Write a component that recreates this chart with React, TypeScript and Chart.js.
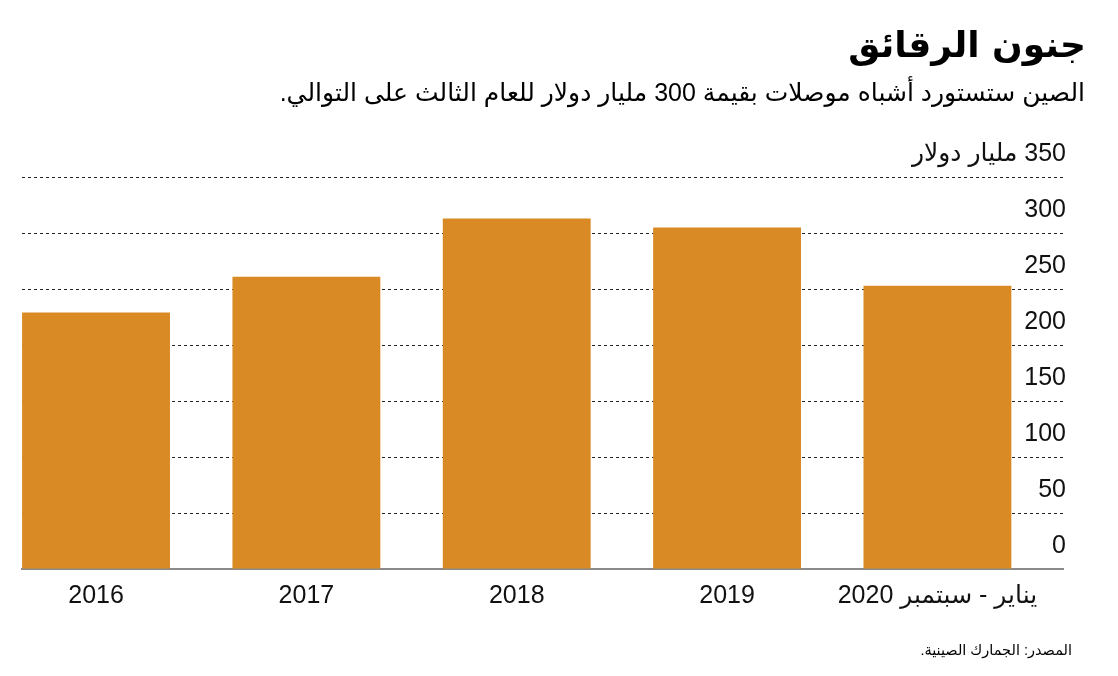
import React, { useEffect, useRef } from "react";
import { Chart, registerables } from "chart.js";

Chart.register(...registerables);

const titleText = "جنون الرقائق";
const subtitleText = "الصين ستستورد أشباه موصلات بقيمة 300 مليار دولار للعام الثالث على التوالي.";
const sourceText = "المصدر: الجمارك الصينية.";

const categories = ["2016", "2017", "2018", "2019", "يناير - سبتمبر 2020"];
const imports = [229, 261, 313, 305, 253];
const yTickValues = [0, 50, 100, 150, 200, 250, 300, 350];
const yTopLabelSuffix = " مليار دولار";

const BAR_COLOR = "#D98A24";
const FONT = "'Liberation Sans', 'DejaVu Sans', Arial, sans-serif";

export default function App() {
  const canvasRef = useRef<HTMLCanvasElement | null>(null);

  useEffect(() => {
    const canvas = canvasRef.current;
    if (!canvas) return;
    const chart = new Chart(canvas, {
      type: "bar",
      data: {
        datasets: [
          {
            data: imports.map((v, i) => ({ x: i, y: v })),
            backgroundColor: BAR_COLOR,
            borderWidth: 0,
            categoryPercentage: 1,
            barPercentage: 0.703,
          },
        ],
      },
      options: {
        responsive: false,
        animation: false,
        events: [],
        layout: { padding: { left: 14, right: 41, top: 169, bottom: 45 } },
        plugins: {
          legend: { display: false },
          tooltip: { enabled: false },
          title: { display: false },
        },
        scales: {
          x: {
            type: "linear",
            min: -0.352,
            max: 4.597,
            offset: false,
            afterBuildTicks: (axis: any) => {
              axis.ticks = categories.map((_, i) => ({ value: i }));
            },
            grid: { display: false, drawTicks: false, offset: false },
            border: { display: true, color: "#8a8a8a", width: 2 },
            ticks: {
              autoSkip: false,
              maxRotation: 0,
              padding: 12,
              color: "#111",
              font: { family: FONT, size: 25 },
              callback: (value: any) => categories[Math.round(Number(value))] ?? "",
            },
          },
          y: {
            type: "linear",
            position: "right",
            min: 0,
            max: 350,
            afterBuildTicks: (axis: any) => {
              axis.ticks = yTickValues.map((v) => ({ value: v }));
            },
            grid: { color: "#222", lineWidth: 1, drawTicks: false },
            border: { display: false, dash: [3, 3] },
            ticks: {
              mirror: true,
              padding: 3,
              labelOffset: -23,
              color: "#111",
              font: { family: FONT, size: 25 },
              callback: (value: any) =>
                Number(value) === 350 ? `${value}${yTopLabelSuffix}` : `${value}`,
            },
          },
        },
      },
    } as any);
    return () => chart.destroy();
  }, []);

  return (
    <div style={{ position: "relative", width: 1102, height: 660 }}>
      <canvas
        ref={canvasRef}
        width={1102}
        height={660}
        dir="rtl"
        style={{ position: "absolute", left: 0, top: 0, width: 1102, height: 660, direction: "rtl" }}
      />
      <div
        dir="rtl"
        style={{
          position: "absolute",
          right: 24,
          top: 12,
          fontFamily: "'DejaVu Sans', sans-serif",
          fontWeight: 700,
          fontSize: 36,
          lineHeight: "50px",
          color: "#000",
          whiteSpace: "nowrap",
        }}
      >
        {titleText}
      </div>
      <div
        dir="rtl"
        style={{
          position: "absolute",
          right: 25,
          top: 69,
          fontFamily: FONT,
          fontSize: 25,
          lineHeight: "30px",
          color: "#000",
          whiteSpace: "nowrap",
        }}
      >
        {subtitleText}
      </div>
      <div
        dir="rtl"
        style={{
          position: "absolute",
          right: 38,
          top: 632,
          fontFamily: FONT,
          fontSize: 14.5,
          lineHeight: "20px",
          color: "#000",
          whiteSpace: "nowrap",
        }}
      >
        {sourceText}
      </div>
    </div>
  );
}
